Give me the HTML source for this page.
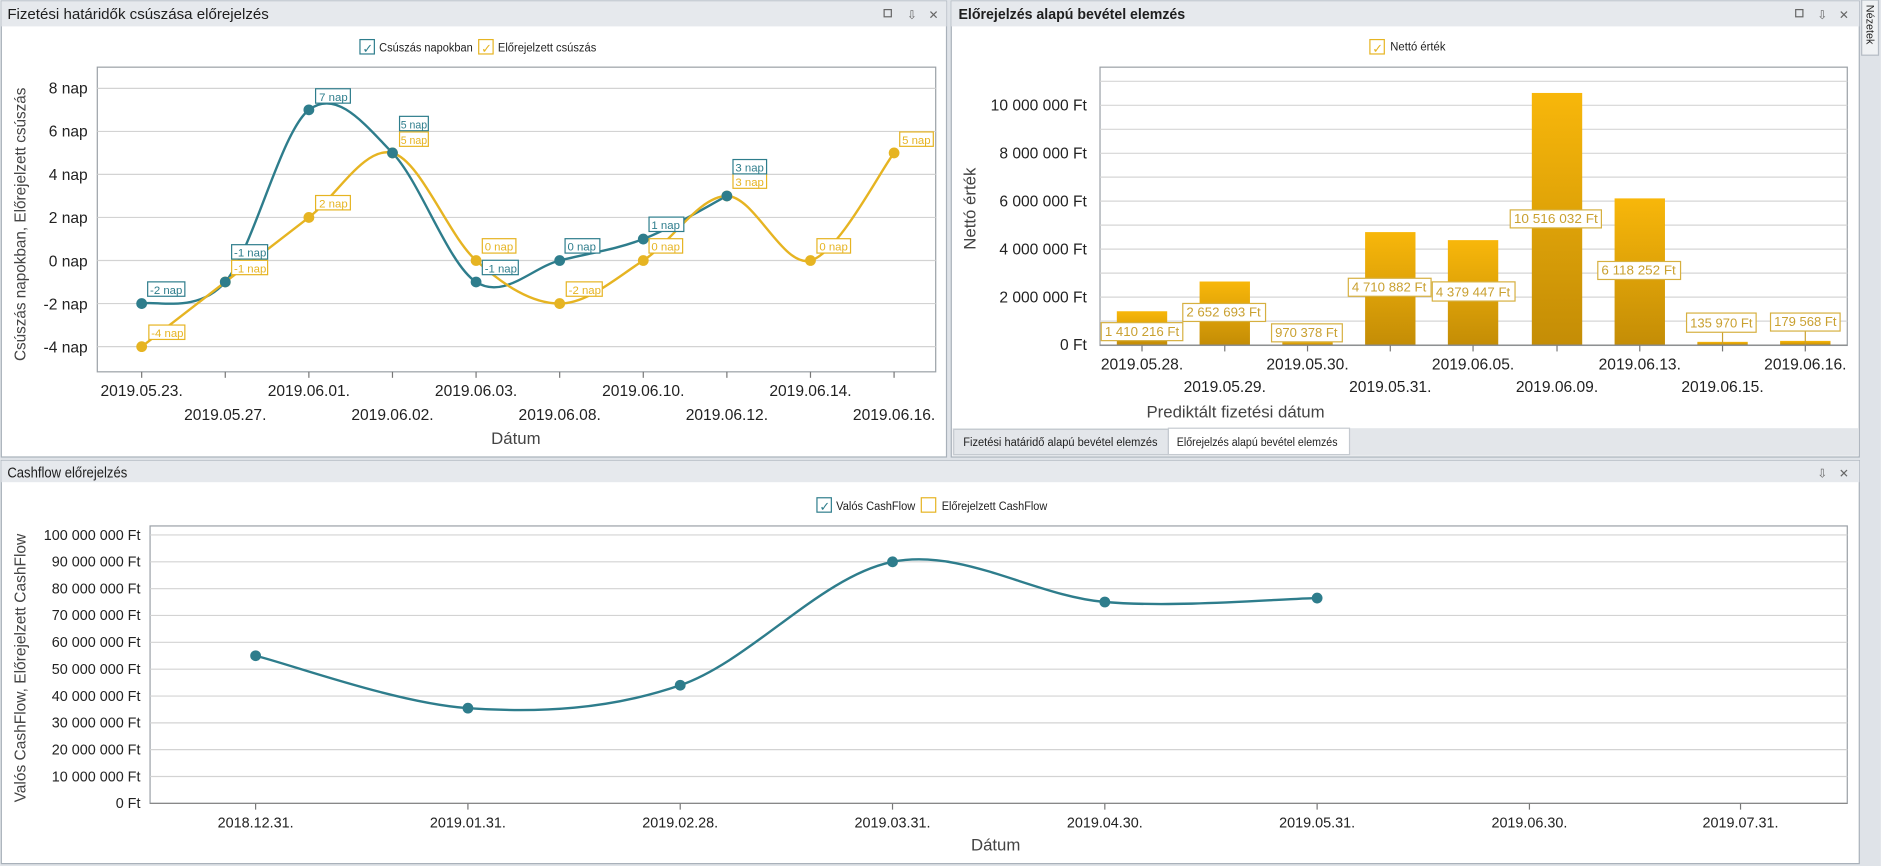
<!DOCTYPE html>
<html><head><meta charset="utf-8"><style>
html,body{margin:0;padding:0;background:#fff;width:1881px;height:866px;overflow:hidden}
svg{display:block;font-family:"Liberation Sans",sans-serif}
</style></head><body>
<svg width="1881" height="866" viewBox="0 0 1568 722" xmlns="http://www.w3.org/2000/svg">
<rect x="0" y="0" width="1568" height="722" fill="#dfe3e8"/>
<!-- LEFT PANEL -->
<rect x="1" y="1" width="788" height="380" fill="#fff" stroke="#a9b1ba"/>
<rect x="1" y="1" width="788" height="21" fill="#e6e9ed"/>
<text x="6" y="16" font-size="12" fill="#1e1e1e" textLength="218" lengthAdjust="spacingAndGlyphs">Fizetési határidők csúszása előrejelzés</text>
<g fill="#666" font-size="10"><rect x="737" y="8" width="6" height="6" fill="none" stroke="#666"/><text x="756" y="16">⇩</text><text x="774" y="16">✕</text></g>
<rect x="300" y="33" width="12" height="12" fill="#fff" stroke="#2e7d8c"/><text x="302" y="44" font-size="11" fill="#2e7d8c">✓</text>
<text x="316" y="43" font-size="10" fill="#222" textLength="78" lengthAdjust="spacingAndGlyphs">Csúszás napokban</text>
<rect x="399" y="33" width="12" height="12" fill="#fff" stroke="#e6b422"/><text x="401" y="44" font-size="11" fill="#e6b422">✓</text>
<text x="415" y="43" font-size="10" fill="#222" textLength="82" lengthAdjust="spacingAndGlyphs">Előrejelzett csúszás</text>
<rect x="81" y="56" width="699" height="254" fill="#fff" stroke="#9aa0a6"/>
<g stroke="#d3d3d3" stroke-width="1">
<line x1="81" x2="780" y1="73.7" y2="73.7"/><line x1="81" x2="780" y1="109.6" y2="109.6"/><line x1="81" x2="780" y1="145.4" y2="145.4"/><line x1="81" x2="780" y1="181.3" y2="181.3"/><line x1="81" x2="780" y1="217.2" y2="217.2"/><line x1="81" x2="780" y1="253.1" y2="253.1"/><line x1="81" x2="780" y1="289" y2="289"/>
</g>
<g font-size="13" fill="#222" text-anchor="end">
<text x="73" y="78">8 nap</text><text x="73" y="114">6 nap</text><text x="73" y="150">4 nap</text><text x="73" y="186">2 nap</text><text x="73" y="222">0 nap</text><text x="73" y="258">-2 nap</text><text x="73" y="294">-4 nap</text>
</g>
<g stroke="#777"><line x1="118" x2="118" y1="310" y2="315"/><line x1="187.7" x2="187.7" y1="310" y2="315"/><line x1="257.4" x2="257.4" y1="310" y2="315"/><line x1="327.1" x2="327.1" y1="310" y2="315"/><line x1="396.8" x2="396.8" y1="310" y2="315"/><line x1="466.5" x2="466.5" y1="310" y2="315"/><line x1="536.2" x2="536.2" y1="310" y2="315"/><line x1="605.9" x2="605.9" y1="310" y2="315"/><line x1="675.6" x2="675.6" y1="310" y2="315"/><line x1="745.3" x2="745.3" y1="310" y2="315"/></g>
<g font-size="13" fill="#222" text-anchor="middle">
<text x="118" y="330">2019.05.23.</text><text x="187.7" y="350">2019.05.27.</text><text x="257.4" y="330">2019.06.01.</text><text x="327.1" y="350">2019.06.02.</text><text x="396.8" y="330">2019.06.03.</text><text x="466.5" y="350">2019.06.08.</text><text x="536.2" y="330">2019.06.10.</text><text x="605.9" y="350">2019.06.12.</text><text x="675.6" y="330">2019.06.14.</text><text x="745.3" y="350">2019.06.16.</text>
<text x="430" y="370" font-size="14" fill="#444">Dátum</text>
</g>
<text transform="translate(21,187) rotate(-90)" font-size="13" fill="#444" text-anchor="middle" textLength="228" lengthAdjust="spacingAndGlyphs">Csúszás napokban, Előrejelzett csúszás</text>
<path id="tealL" fill="none" stroke="#2e7d8c" stroke-width="2" data-p="118,253.1 187.7,235.1 257.4,91.6 327.1,127.5 396.8,235.1 466.5,217.2 536.2,199.3 605.9,163.4"/>
<path id="yelL" fill="none" stroke="#e6b422" stroke-width="2" data-p="118,289 187.7,235.1 257.4,181.3 327.1,127.5 396.8,217.2 466.5,253.1 536.2,217.2 605.9,163.4 675.6,217.2 745.3,127.5"/>
<g fill="#e6b422"><circle cx="118" cy="289" r="4.5"/><circle cx="187.7" cy="235.1" r="4.5"/><circle cx="257.4" cy="181.3" r="4.5"/><circle cx="327.1" cy="127.5" r="4.5"/><circle cx="396.8" cy="217.2" r="4.5"/><circle cx="466.5" cy="253.1" r="4.5"/><circle cx="536.2" cy="217.2" r="4.5"/><circle cx="605.9" cy="163.4" r="4.5"/><circle cx="675.6" cy="217.2" r="4.5"/><circle cx="745.3" cy="127.5" r="4.5"/></g>
<g fill="#2e7d8c"><circle cx="118" cy="253.1" r="4.5"/><circle cx="187.7" cy="235.1" r="4.5"/><circle cx="257.4" cy="91.6" r="4.5"/><circle cx="327.1" cy="127.5" r="4.5"/><circle cx="396.8" cy="235.1" r="4.5"/><circle cx="466.5" cy="217.2" r="4.5"/><circle cx="536.2" cy="199.3" r="4.5"/><circle cx="605.9" cy="163.4" r="4.5"/></g>
<g font-size="9.5" fill="#e6b422">
<rect x="124" y="271" width="30" height="12" fill="#fff" stroke="#e6b422"/><text x="126" y="281">-4 nap</text>
<rect x="193" y="217" width="30" height="12" fill="#fff" stroke="#e6b422"/><text x="195" y="227">-1 nap</text>
<rect x="263" y="163" width="29" height="12" fill="#fff" stroke="#e6b422"/><text x="266" y="173">2 nap</text>
<rect x="333" y="110" width="24" height="12" fill="#fff" stroke="#e6b422"/><text x="334" y="120" textLength="22" lengthAdjust="spacingAndGlyphs">5 nap</text>
<rect x="402" y="199" width="28" height="12" fill="#fff" stroke="#e6b422"/><text x="404" y="209">0 nap</text>
<rect x="472" y="235" width="30" height="12" fill="#fff" stroke="#e6b422"/><text x="474" y="245">-2 nap</text>
<rect x="541" y="199" width="28" height="12" fill="#fff" stroke="#e6b422"/><text x="543" y="209">0 nap</text>
<rect x="611" y="145" width="28" height="12" fill="#fff" stroke="#e6b422"/><text x="613" y="155">3 nap</text>
<rect x="681" y="199" width="28" height="12" fill="#fff" stroke="#e6b422"/><text x="683" y="209">0 nap</text>
<rect x="750" y="110" width="28" height="12" fill="#fff" stroke="#e6b422"/><text x="752" y="120">5 nap</text>
</g>
<g font-size="9.5" fill="#2e7d8c">
<rect x="123" y="235" width="31" height="12" fill="#fff" stroke="#2e7d8c"/><text x="125" y="245">-2 nap</text>
<rect x="193" y="204" width="30" height="12" fill="#fff" stroke="#2e7d8c"/><text x="195" y="214">-1 nap</text>
<rect x="263" y="74" width="29" height="12" fill="#fff" stroke="#2e7d8c"/><text x="266" y="84">7 nap</text>
<rect x="333" y="97" width="24" height="12" fill="#fff" stroke="#2e7d8c"/><text x="334" y="107" textLength="22" lengthAdjust="spacingAndGlyphs">5 nap</text>
<rect x="402" y="217" width="30" height="12" fill="#fff" stroke="#2e7d8c"/><text x="404" y="227">-1 nap</text>
<rect x="471" y="199" width="29" height="12" fill="#fff" stroke="#2e7d8c"/><text x="473" y="209">0 nap</text>
<rect x="541" y="181" width="29" height="12" fill="#fff" stroke="#2e7d8c"/><text x="543" y="191">1 nap</text>
<rect x="611" y="133" width="28" height="12" fill="#fff" stroke="#2e7d8c"/><text x="613" y="143">3 nap</text>
</g>

<!-- RIGHT PANEL -->
<rect x="793" y="1" width="757" height="380" fill="#fff" stroke="#a9b1ba"/>
<rect x="793" y="1" width="757" height="21" fill="#e6e9ed"/>
<text x="799" y="16" font-size="12" font-weight="bold" fill="#1e1e1e" textLength="189" lengthAdjust="spacingAndGlyphs">Előrejelzés alapú bevétel elemzés</text>
<g fill="#666" font-size="10"><rect x="1497" y="8" width="6" height="6" fill="none" stroke="#666"/><text x="1515" y="16">⇩</text><text x="1533" y="16">✕</text></g>
<rect x="1142" y="33" width="12" height="12" fill="#fff" stroke="#e6b422"/><text x="1144" y="44" font-size="11" fill="#e6b422">✓</text>
<text x="1159" y="42" font-size="10" fill="#222" textLength="46" lengthAdjust="spacingAndGlyphs">Nettó érték</text>
<rect x="917" y="56" width="623" height="232" fill="#fff" stroke="#9aa0a6"/>
<g stroke="#d6d6d6">
<line x1="917" x2="1540" y1="67.8" y2="67.8"/><line x1="917" x2="1540" y1="87.8" y2="87.8"/><line x1="917" x2="1540" y1="107.8" y2="107.8"/><line x1="917" x2="1540" y1="127.8" y2="127.8"/><line x1="917" x2="1540" y1="147.7" y2="147.7"/><line x1="917" x2="1540" y1="167.7" y2="167.7"/><line x1="917" x2="1540" y1="187.7" y2="187.7"/><line x1="917" x2="1540" y1="207.7" y2="207.7"/><line x1="917" x2="1540" y1="227.7" y2="227.7"/><line x1="917" x2="1540" y1="247.7" y2="247.7"/><line x1="917" x2="1540" y1="267.7" y2="267.7"/>
</g>
<g font-size="13" fill="#222" text-anchor="end">
<text x="906" y="92">10 000 000 Ft</text><text x="906" y="132">8 000 000 Ft</text><text x="906" y="172">6 000 000 Ft</text><text x="906" y="212">4 000 000 Ft</text><text x="906" y="252">2 000 000 Ft</text><text x="906" y="292">0 Ft</text>
</g>
<text transform="translate(813,174) rotate(-90)" font-size="14" fill="#444" text-anchor="middle">Nettó érték</text>
<defs><linearGradient id="bg" x1="0" y1="0" x2="0" y2="1"><stop offset="0" stop-color="#f8b70a"/><stop offset="1" stop-color="#c48d06"/></linearGradient></defs>
<g fill="url(#bg)">
<rect x="931" y="259.5" width="42" height="28.2"/>
<rect x="1000" y="234.7" width="42" height="53"/>
<rect x="1069" y="284.7" width="42" height="3"/>
<rect x="1138" y="193.5" width="42" height="94.2"/>
<rect x="1207" y="200.2" width="42" height="87.5"/>
<rect x="1277" y="77.5" width="42" height="210.2"/>
<rect x="1346" y="165.4" width="42" height="122.3"/>
<rect x="1415" y="285" width="42" height="2.7"/>
<rect x="1484" y="284.2" width="42" height="3.5"/>
</g>
<line x1="917" x2="1540" y1="287.7" y2="287.7" stroke="#888"/>
<g stroke="#c9a030"><line x1="1436" x2="1436" y1="277" y2="287"/><line x1="1505" x2="1505" y1="276" y2="287"/></g>
<g font-size="11" fill="#c9a030">
<rect x="918" y="269" width="68" height="15" fill="#fff" stroke="#d6b040"/><text x="921" y="280" textLength="62" lengthAdjust="spacingAndGlyphs">1 410 216 Ft</text>
<rect x="986" y="253" width="69" height="15" fill="#fff" stroke="#d6b040"/><text x="989" y="264" textLength="62" lengthAdjust="spacingAndGlyphs">2 652 693 Ft</text>
<rect x="1060" y="270" width="59" height="15" fill="#fff" stroke="#d6b040"/><text x="1063" y="281" textLength="52" lengthAdjust="spacingAndGlyphs">970 378 Ft</text>
<rect x="1124" y="232" width="69" height="15" fill="#fff" stroke="#d6b040"/><text x="1127" y="243" textLength="62" lengthAdjust="spacingAndGlyphs">4 710 882 Ft</text>
<rect x="1194" y="235" width="69" height="16" fill="#fff" stroke="#d6b040"/><text x="1197" y="247" textLength="62" lengthAdjust="spacingAndGlyphs">4 379 447 Ft</text>
<rect x="1259" y="175" width="76" height="15" fill="#fff" stroke="#d6b040"/><text x="1262" y="186" textLength="70" lengthAdjust="spacingAndGlyphs">10 516 032 Ft</text>
<rect x="1332" y="218" width="69" height="15" fill="#fff" stroke="#d6b040"/><text x="1335" y="229" textLength="62" lengthAdjust="spacingAndGlyphs">6 118 252 Ft</text>
<rect x="1406" y="261" width="58" height="16" fill="#fff" stroke="#d6b040"/><text x="1409" y="273" textLength="52" lengthAdjust="spacingAndGlyphs">135 970 Ft</text>
<rect x="1476" y="261" width="58" height="15" fill="#fff" stroke="#d6b040"/><text x="1479" y="272" textLength="52" lengthAdjust="spacingAndGlyphs">179 568 Ft</text>
</g>
<g stroke="#777"><line x1="952" x2="952" y1="288" y2="293"/><line x1="1021" x2="1021" y1="288" y2="293"/><line x1="1090" x2="1090" y1="288" y2="293"/><line x1="1159" x2="1159" y1="288" y2="293"/><line x1="1228" x2="1228" y1="288" y2="293"/><line x1="1298" x2="1298" y1="288" y2="293"/><line x1="1367" x2="1367" y1="288" y2="293"/><line x1="1436" x2="1436" y1="288" y2="293"/><line x1="1505" x2="1505" y1="288" y2="293"/></g>
<g font-size="13" fill="#222" text-anchor="middle">
<text x="952" y="308">2019.05.28.</text><text x="1021" y="327">2019.05.29.</text><text x="1090" y="308">2019.05.30.</text><text x="1159" y="327">2019.05.31.</text><text x="1228" y="308">2019.06.05.</text><text x="1298" y="327">2019.06.09.</text><text x="1367" y="308">2019.06.13.</text><text x="1436" y="327">2019.06.15.</text><text x="1505" y="308">2019.06.16.</text>
<text x="1030" y="348" font-size="14" fill="#444">Prediktált fizetési dátum</text>
</g>
<rect x="794" y="357" width="755" height="23" fill="#e3e6ea"/>
<rect x="795" y="358" width="179" height="21" fill="#e3e6ea" stroke="#c5cad0"/>
<text x="803" y="372" font-size="10" fill="#222" textLength="162" lengthAdjust="spacingAndGlyphs">Fizetési határidő alapú bevétel elemzés</text>
<rect x="974" y="357" width="151" height="22" fill="#fff" stroke="#c5cad0"/>
<text x="981" y="372" font-size="10" fill="#222" textLength="134" lengthAdjust="spacingAndGlyphs">Előrejelzés alapú bevétel elemzés</text>
<!-- side tab -->
<rect x="1552" y="0" width="14" height="46" fill="#f0f2f4" stroke="#b5bcc4"/>
<text transform="translate(1556,4) rotate(90)" font-size="9" fill="#222">Nézetek</text>

<!-- BOTTOM PANEL -->
<rect x="1" y="384" width="1549" height="336" fill="#fff" stroke="#a9b1ba"/>
<rect x="1" y="384" width="1549" height="18" fill="#e6e9ed"/>
<text x="6" y="398" font-size="12" fill="#1e1e1e" textLength="100" lengthAdjust="spacingAndGlyphs">Cashflow előrejelzés</text>
<g fill="#666" font-size="10"><text x="1515" y="398">⇩</text><text x="1533" y="398">✕</text></g>
<rect x="681" y="415" width="12" height="12" fill="#fff" stroke="#2e7d8c"/><text x="683" y="426" font-size="11" fill="#2e7d8c">✓</text>
<text x="697" y="425" font-size="10" fill="#222" textLength="66" lengthAdjust="spacingAndGlyphs">Valós CashFlow</text>
<rect x="768" y="415" width="12" height="12" fill="#fff" stroke="#e6b422"/>
<text x="785" y="425" font-size="10" fill="#222" textLength="88" lengthAdjust="spacingAndGlyphs">Előrejelzett CashFlow</text>
<rect x="125" y="438.5" width="1415" height="231.3" fill="#fff" stroke="#9aa0a6"/>
<g stroke="#d3d3d3">
<line x1="125" x2="1540" y1="446" y2="446"/><line x1="125" x2="1540" y1="468.4" y2="468.4"/><line x1="125" x2="1540" y1="490.8" y2="490.8"/><line x1="125" x2="1540" y1="513.1" y2="513.1"/><line x1="125" x2="1540" y1="535.5" y2="535.5"/><line x1="125" x2="1540" y1="557.9" y2="557.9"/><line x1="125" x2="1540" y1="580.3" y2="580.3"/><line x1="125" x2="1540" y1="602.7" y2="602.7"/><line x1="125" x2="1540" y1="625" y2="625"/><line x1="125" x2="1540" y1="647.4" y2="647.4"/>
</g>
<line x1="125" x2="1540" y1="669.8" y2="669.8" stroke="#888"/>
<g font-size="12" fill="#222" text-anchor="end">
<text x="117" y="450">100 000 000 Ft</text><text x="117" y="472.4">90 000 000 Ft</text><text x="117" y="494.8">80 000 000 Ft</text><text x="117" y="517.1">70 000 000 Ft</text><text x="117" y="539.5">60 000 000 Ft</text><text x="117" y="561.9">50 000 000 Ft</text><text x="117" y="584.3">40 000 000 Ft</text><text x="117" y="606.7">30 000 000 Ft</text><text x="117" y="629">20 000 000 Ft</text><text x="117" y="651.4">10 000 000 Ft</text><text x="117" y="673.8">0 Ft</text>
</g>
<text transform="translate(21,557) rotate(-90)" font-size="13" fill="#444" text-anchor="middle" textLength="224" lengthAdjust="spacingAndGlyphs">Valós CashFlow, Előrejelzett CashFlow</text>
<g stroke="#777"><line x1="213" x2="213" y1="670" y2="675"/><line x1="390" x2="390" y1="670" y2="675"/><line x1="567" x2="567" y1="670" y2="675"/><line x1="744" x2="744" y1="670" y2="675"/><line x1="921" x2="921" y1="670" y2="675"/><line x1="1098" x2="1098" y1="670" y2="675"/><line x1="1275" x2="1275" y1="670" y2="675"/><line x1="1451" x2="1451" y1="670" y2="675"/></g>
<g font-size="12" fill="#222" text-anchor="middle">
<text x="213" y="690">2018.12.31.</text><text x="390" y="690">2019.01.31.</text><text x="567" y="690">2019.02.28.</text><text x="744" y="690">2019.03.31.</text><text x="921" y="690">2019.04.30.</text><text x="1098" y="690">2019.05.31.</text><text x="1275" y="690">2019.06.30.</text><text x="1451" y="690">2019.07.31.</text>
<text x="830" y="709" font-size="14" fill="#444">Dátum</text>
</g>
<path id="tealB" fill="none" stroke="#2e7d8c" stroke-width="2" data-p="213,546.7 390,590.4 567,571.3 744,468.4 921,501.9 1098,498.6"/>
<g fill="#2e7d8c"><circle cx="213" cy="546.7" r="4.5"/><circle cx="390" cy="590.4" r="4.5"/><circle cx="567" cy="571.3" r="4.5"/><circle cx="744" cy="468.4" r="4.5"/><circle cx="921" cy="501.9" r="4.5"/><circle cx="1098" cy="498.6" r="4.5"/></g>
</svg>
<script>
document.querySelectorAll('path[data-p]').forEach(function(el){
  var p=el.getAttribute('data-p').split(' ').map(function(s){return s.split(',').map(Number);});
  var d='M'+p[0][0]+','+p[0][1];
  for(var i=0;i<p.length-1;i++){
    var p0=p[i-1]||p[i],p1=p[i],p2=p[i+1],p3=p[i+2]||p2;
    var c1=[p1[0]+(p2[0]-p0[0])/6,p1[1]+(p2[1]-p0[1])/6];
    var c2=[p2[0]-(p3[0]-p1[0])/6,p2[1]-(p3[1]-p1[1])/6];
    d+=' C'+c1[0]+','+c1[1]+' '+c2[0]+','+c2[1]+' '+p2[0]+','+p2[1];
  }
  el.setAttribute('d',d);
});
</script>
</body></html>
